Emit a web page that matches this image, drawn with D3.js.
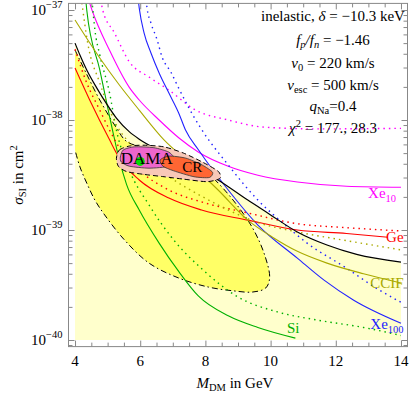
<!DOCTYPE html>
<html><head><meta charset="utf-8">
<script src="https://cdn.jsdelivr.net/npm/d3@7"></script>
<style>
body{margin:0;background:#fff}
svg{display:block}
text{font-family:"Liberation Serif","Times New Roman",serif;fill:#000}
</style>
</head><body>
<svg id="c" width="417" height="395"></svg>
<script>
// ---------- data (mass in GeV, sigma in cm^2) ----------
const xMajorTicks = [4, 6, 8, 10, 12, 14];
const yMajorExps = [-40, -39, -38, -37];

const limitAll = [[4.00,5.0e-38],[4.15,3.9e-38],[4.36,2.85e-38],[4.67,1.95e-38],[4.97,1.40e-38],[5.27,1.04e-38],[5.67,7.8e-39],[5.97,6.7e-39],[6.58,5.3e-39],[7.48,4.05e-39],[8.39,2.85e-39],[9.30,1.87e-39],[9.91,1.43e-39],[10.82,9.6e-40],[11.73,7.3e-40],[12.64,6.0e-40],[14.0,5.1e-40]];

const xe10Solid = [[4.42,1.23e-37],[4.52,1.0e-37],[5.06,4.3e-38],[5.67,1.97e-38],[5.97,1.52e-38],[6.58,1.0e-38],[7.18,6.9e-39],[7.79,5.1e-39],[8.70,3.8e-39],[9.61,3.15e-39],[10.82,2.73e-39],[12.33,2.5e-39],[14.0,2.45e-39]];
const xe10Dotted = [[4.79,1.23e-37],[4.85,1.0e-37],[5.21,6.2e-38],[5.67,3.37e-38],[6.27,2.46e-38],[6.88,1.87e-38],[7.70,1.23e-38],[8.70,1.0e-38],[9.82,8.6e-39],[11.42,8.3e-39],[14.0,8.4e-39]];

const xe100Solid = [[5.94,1.23e-37],[5.97,1.04e-37],[6.12,6.17e-38],[6.33,4.07e-38],[6.58,2.68e-38],[6.88,1.76e-38],[7.18,1.16e-38],[7.39,8.1e-39],[7.79,5.34e-39],[8.70,2.31e-39],[9.61,1.11e-39],[10.82,5.55e-40],[11.64,3.5e-40],[12.55,2.3e-40],[14.0,1.42e-40]];
const xe100Dotted = [[6.18,1.23e-37],[6.21,1.04e-37],[6.33,7.6e-38],[6.52,5.34e-38],[6.67,3.74e-38],[6.94,2.73e-38],[7.18,1.95e-38],[7.48,1.31e-38],[7.85,8.5e-39],[8.70,3.9e-39],[9.61,1.87e-39],[10.36,1.17e-39],[11.12,7.6e-40],[12.33,4.5e-40],[13.24,2.96e-40],[14.0,2.2e-40]];

const siSolid = [[4.33,1.23e-37],[4.36,1.0e-37],[4.76,2.85e-38],[5.15,8.1e-39],[5.36,4.33e-39],[5.58,2.6e-39],[5.97,1.52e-39],[6.58,7.6e-40],[7.18,4.2e-40],[7.79,2.5e-40],[8.70,1.66e-40],[9.61,1.3e-40],[10.76,1.04e-40]];
const siDotted = [[4.52,1.23e-37],[4.61,6.6e-38],[4.76,3.9e-38],[5.06,1.76e-38],[5.27,8.1e-39],[5.67,3.5e-39],[6.27,1.69e-39],[7.03,8.1e-40],[7.94,4.3e-40],[9.0,2.46e-40],[10.21,1.8e-40],[11.42,1.52e-40],[12.85,1.3e-40],[14.0,1.1e-40]];

const geSolid = [[4.0,2.97e-38],[4.45,1.52e-38],[5.06,6.6e-39],[5.36,4.5e-39],[5.97,2.85e-39],[6.88,1.95e-39],[7.88,1.52e-39],[9.30,1.23e-39],[10.82,1.0e-39],[12.33,9.3e-40],[13.6,8.6e-40]];
const geDotted = [[4.0,4.4e-38],[4.36,2.17e-38],[4.76,1.23e-38],[5.06,8.1e-39],[5.36,5.6e-39],[5.97,3.5e-39],[6.88,2.31e-39],[7.88,1.8e-39],[9.30,1.43e-39],[10.82,1.14e-39],[12.33,1.05e-39],[14.0,9.8e-40]];

const ccifSolid = [[4.0,8.1e-38],[4.76,3.66e-38],[5.36,2.08e-38],[5.97,1.23e-38],[6.73,6.6e-39],[7.48,4.15e-39],[8.39,2.31e-39],[9.30,1.23e-39],[10.06,8.6e-40],[10.82,6.4e-40],[11.73,5.0e-40],[12.85,4.0e-40],[14.0,3.3e-40]];
const ccifDotted = [[4.21,1.16e-37],[4.39,5.0e-38],[4.76,2.17e-38],[5.06,1.23e-38],[5.27,9.0e-39],[5.67,6.2e-39],[6.27,4.15e-39],[7.03,2.85e-39],[7.79,2.1e-39],[8.70,1.52e-39],[9.61,1.17e-39],[10.82,9.6e-40],[12.33,8.0e-40],[14.0,6.6e-40]];

const fitRegion = [[4.0,4.33e-38],[4.36,2.6e-38],[4.76,1.52e-38],[5.27,8.5e-39],[5.61,6.3e-39],[6.58,5.34e-39],[7.79,3.9e-39],[8.24,2.97e-39],[8.85,1.87e-39],[9.45,1.04e-39],[9.82,5.9e-40],[9.97,3.66e-40],[9.85,2.97e-40],[9.45,2.73e-40],[8.85,2.8e-40],[8.09,3.03e-40],[7.18,3.66e-40],[6.27,5.0e-40],[5.52,8.1e-40],[4.91,1.37e-39],[4.61,1.87e-39],[4.36,2.67e-39],[4.15,3.75e-39],[4.0,5.34e-39]];

const outerRegion = [[5.27,4.5e-39],[5.36,5.34e-39],[5.67,5.8e-39],[6.12,5.9e-39],[6.73,5.7e-39],[7.33,5.0e-39],[7.94,4.1e-39],[8.40,3.4e-39],[8.45,2.95e-39],[8.05,2.75e-39],[7.33,2.9e-39],[6.73,3.05e-39],[6.12,3.2e-39],[5.58,3.4e-39],[5.33,3.8e-39]];
const damaRegion = [[5.39,4.6e-39],[5.48,5.34e-39],[5.82,5.7e-39],[6.42,5.6e-39],[6.88,5.1e-39],[7.06,4.4e-39],[6.88,3.8e-39],[6.27,3.65e-39],[5.67,3.8e-39],[5.42,4.15e-39]];
const crRegion = [[6.61,4.33e-39],[6.88,4.7e-39],[7.40,4.5e-39],[7.90,3.9e-39],[8.22,3.35e-39],[8.12,3.0e-39],[7.65,3.05e-39],[7.03,3.45e-39],[6.70,3.8e-39]];
const bestFit = [6.0, 4.2e-39];

// ---------- scales ----------
const svg = d3.select("#c");
const x = d3.scaleLinear().domain([3.8, 14.2]).range([68.5, 407.5]);
const y = d3.scaleLog().domain([Math.pow(10,-40.06), Math.pow(10,-36.94)]).range([346.6, 3.4]);
const [X0, X1] = x.range(); const [Y0, Y1] = [y.range()[1], y.range()[0]];

svg.append("defs").append("clipPath").attr("id","clip")
  .append("rect").attr("x",X0).attr("y",Y0).attr("width",X1-X0).attr("height",Y1-Y0);
const plot = svg.append("g").attr("clip-path","url(#clip)");

const line = d3.line().x(d=>x(d[0])).y(d=>y(d[1])).curve(d3.curveMonotoneX);
const closed = d3.line().x(d=>x(d[0])).y(d=>y(d[1])).curve(d3.curveCardinalClosed.tension(0.3));
const openSmooth = d3.line().x(d=>x(d[0])).y(d=>y(d[1])).curve(d3.curveCatmullRom.alpha(0.5));

// pale fill under the combined limit
plot.append("path").datum(limitAll)
  .attr("d", d3.area().x(d=>x(d[0])).y0(y(1e-40)).y1(d=>y(d[1])).curve(d3.curveMonotoneX))
  .attr("fill","#ffffcc");

// bright yellow fit region (left edge at M = 4 not stroked)
plot.append("path").datum(fitRegion).attr("d",d=>openSmooth(d)+"Z")
  .attr("fill","#ffff66");
plot.append("path").datum(fitRegion).attr("d",openSmooth)
  .attr("fill","none").attr("stroke","#000").attr("stroke-width",1)
  .attr("stroke-dasharray","6,3,1.5,3");

// curves
const curves = [
  [xe10Dotted,"#ff00ff",true],[xe10Solid,"#ff00ff",false],
  [xe100Dotted,"#2222ff",true],[xe100Solid,"#2222ff",false],
  [siDotted,"#00b000",true],[siSolid,"#00b000",false],
  [geDotted,"#ff0000",true],[geSolid,"#ff0000",false],
  [ccifDotted,"#aaaa00",true],[ccifSolid,"#aaaa00",false],
];
curves.forEach(([d,c,dot])=>{
  plot.append("path").datum(d).attr("d",line).attr("fill","none")
    .attr("stroke",c).attr("stroke-width",dot?1.4:1.1)
    .attr("stroke-dasharray",dot?"1.5,4":null);
});
plot.append("path").datum(limitAll).attr("d",line).attr("fill","none")
  .attr("stroke","#000").attr("stroke-width",1.2);

// DAMA / CR regions
plot.append("path").datum(outerRegion).attr("d",closed)
  .attr("fill","#f8c8b8").attr("stroke","#000").attr("stroke-width",1).attr("stroke-dasharray","5,3");
plot.append("path").datum(damaRegion).attr("d",closed)
  .attr("fill","#ee66cc").attr("stroke","#333").attr("stroke-width",0.8);
plot.append("path").datum(crRegion).attr("d",closed)
  .attr("fill","#ff6633").attr("stroke","#333").attr("stroke-width",0.8);
plot.append("circle").attr("cx",x(bestFit[0])).attr("cy",y(bestFit[1])).attr("r",4.5).attr("fill","#00dd00");

plot.append("text").attr("x",x(6.2)).attr("y",y(4.0e-39)).attr("text-anchor","middle")
  .style("font-size","17px").text("DAMA");
plot.append("text").attr("x",x(7.6)).attr("y",y(3.37e-39)).attr("text-anchor","middle")
  .style("font-size","15px").text("CR");

// ---------- frame & ticks ----------
const tickCol = "#888";
const g = svg.append("g");
const minorX = d3.range(4, 14.01, 0.5).filter(v=>v%2!==0);
const minorY = [];
[-41,-40,-39,-38].forEach(e=>{ for(let k=2;k<=9;k++){ const v=k*Math.pow(10,e); if(v>y.domain()[0] && v<y.domain()[1]) minorY.push(v);} });
const majorY = yMajorExps.map(e=>Math.pow(10,e));

function ax(axisFn, scale, vals, size, tr){
  const a = g.append("g").attr("transform",tr)
    .call(axisFn(scale).tickValues(vals).tickSize(size).tickFormat(""));
  a.select(".domain").remove();
  a.selectAll("line").attr("stroke",tickCol);
}
ax(d3.axisBottom,x,xMajorTicks,-6,`translate(0,${Y1})`);
ax(d3.axisBottom,x,minorX,-4,`translate(0,${Y1})`);
ax(d3.axisTop,x,xMajorTicks,-6,`translate(0,${Y0})`);
ax(d3.axisTop,x,minorX,-4,`translate(0,${Y0})`);
ax(d3.axisLeft,y,majorY,-6,`translate(${X0},0)`);
ax(d3.axisLeft,y,minorY,-4,`translate(${X0},0)`);
ax(d3.axisRight,y,majorY,-6,`translate(${X1},0)`);
ax(d3.axisRight,y,minorY,-4,`translate(${X1},0)`);
g.append("rect").attr("x",X0).attr("y",Y0).attr("width",X1-X0).attr("height",Y1-Y0)
  .attr("fill","none").attr("stroke",tickCol).attr("stroke-width",1);

// tick labels
xMajorTicks.forEach(v=>{
  svg.append("text").attr("x",x(v)).attr("y",Y1+19).attr("text-anchor","middle")
    .style("font-size","15px").text(v);
});
yMajorExps.forEach(e=>{
  const t = svg.append("text").attr("x",X0-6).attr("y",y(Math.pow(10,e))+5).attr("text-anchor","end")
    .style("font-size","15px");
  t.append("tspan").text("10");
  t.append("tspan").attr("dy",-7).style("font-size","10.5px").text("\u2212"+Math.abs(e));
});

// axis titles
const xt = svg.append("text").attr("x",(X0+X1)/2-3).attr("y",388).attr("text-anchor","middle").style("font-size","15px");
xt.append("tspan").style("font-style","italic").text("M");
xt.append("tspan").attr("dy",3).style("font-size","10.5px").text("DM");
xt.append("tspan").attr("dy",-3).text(" in GeV");

const yt = svg.append("text").attr("transform",`translate(23,${(Y0+Y1)/2}) rotate(-90)`).attr("text-anchor","middle").style("font-size","15px");
yt.append("tspan").style("font-style","italic").text("\u03c3");
yt.append("tspan").attr("dy",3).style("font-size","10.5px").text("SI");
yt.append("tspan").attr("dy",-3).text(" in cm");
yt.append("tspan").attr("dy",-6).style("font-size","10.5px").text("2");

// curve labels
function lab(txt, sub, col, xv, yv, anchor){
  const t = svg.append("text").attr("x",x(xv)).attr("y",y(yv)).attr("text-anchor",anchor||"end")
    .style("font-size","15px").style("fill",col);
  t.append("tspan").text(txt);
  if(sub) t.append("tspan").attr("dy",4).style("font-size","10.5px").text(sub);
}
lab("Xe","10","#ff00ff",13.85,1.95e-39);
lab("Ge",null,"#ff0000",14.08,7.7e-40);
lab("CCIF",null,"#aaaa00",14.08,3.0e-40);
lab("Xe","100","#2222ff",14.08,1.27e-40);
lab("Si",null,"#00b000",10.5,1.15e-40,"start");

// info block
const cx = 333;
const info = svg.append("g").style("font-size","15px");
let t;
t = info.append("text").attr("x",cx).attr("y",21).attr("text-anchor","middle");
t.append("tspan").text("inelastic, ");
t.append("tspan").style("font-style","italic").text("\u03b4");
t.append("tspan").text(" = \u221210.3 keV");

t = info.append("text").attr("x",cx).attr("y",45).attr("text-anchor","middle");
t.append("tspan").style("font-style","italic").text("f");
t.append("tspan").attr("dy",3).style("font-size","10.5px").style("font-style","italic").text("p");
t.append("tspan").attr("dy",-3).style("font-style","italic").text("/f");
t.append("tspan").attr("dy",3).style("font-size","10.5px").style("font-style","italic").text("n");
t.append("tspan").attr("dy",-3).text(" = \u22121.46");

t = info.append("text").attr("x",cx).attr("y",68).attr("text-anchor","middle");
t.append("tspan").style("font-style","italic").text("v");
t.append("tspan").attr("dy",3).style("font-size","10.5px").text("0");
t.append("tspan").attr("dy",-3).text(" = 220 km/s");

t = info.append("text").attr("x",cx).attr("y",90).attr("text-anchor","middle");
t.append("tspan").style("font-style","italic").text("v");
t.append("tspan").attr("dy",3).style("font-size","10.5px").text("esc");
t.append("tspan").attr("dy",-3).text(" = 500 km/s");

t = info.append("text").attr("x",cx).attr("y",111).attr("text-anchor","middle");
t.append("tspan").style("font-style","italic").text("q");
t.append("tspan").attr("dy",3).style("font-size","10.5px").text("Na");
t.append("tspan").attr("dy",-3).text("=0.4");

t = info.append("text").attr("x",cx).attr("y",133).attr("text-anchor","middle");
t.append("tspan").style("font-style","italic").text("\u03c7");
t.append("tspan").attr("dy",-6).style("font-size","10.5px").text("2");
t.append("tspan").attr("dy",6).text(" = 177., 28.3");
</script>
</body></html>
